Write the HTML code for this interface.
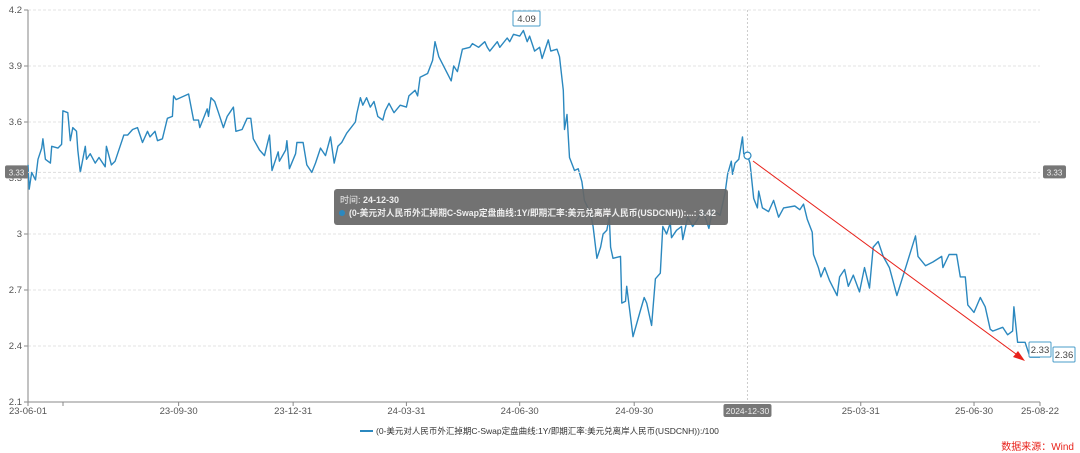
<!DOCTYPE html>
<html><head><meta charset="utf-8">
<style>
html,body{margin:0;padding:0;background:#fff;}
svg{display:block;font-family:"Liberation Sans","Noto Sans CJK SC",sans-serif;}
</style></head>
<body>
<svg id="chart" width="1080" height="453" viewBox="0 0 1080 453" xmlns="http://www.w3.org/2000/svg">
<g id="grid"></g>
<g id="yaxis"></g>
<g id="xaxis"></g>
<path id="line" fill="none" stroke="#2b88bf" stroke-width="1.4" stroke-linejoin="round"></path>
<g id="over"></g>
</svg>
<script>
const yTicks=[2.1,2.4,2.7,3,3.3,3.6,3.9,4.2];
const xTickDays=[0,121,213,304,395,487,669,760,813];
const xTickLabels=["23-06-01","23-09-30","23-12-31","24-03-31","24-06-30","24-09-30","25-03-31","25-06-30","25-08-22"];
const days=[0,1,3,6,8,11,12,14,18,19,24,27,28,32,34,36,39,40,42,46,47,50,54,57,62,63,67,70,76,77,80,84,88,92,96,98,102,104,108,112,116,117,119,129,133,137,138,144,145,147,150,153,157,160,162,165,167,172,176,179,181,186,190,194,196,201,202,207,208,210,215,216,221,224,228,231,235,239,243,246,249,252,256,263,264,267,269,272,275,278,281,285,287,290,294,299,304,306,311,313,315,321,325,327,330,340,342,345,349,355,357,362,367,369,371,377,379,385,387,390,395,398,401,403,407,411,413,418,420,425,427,430,431,433,435,439,442,445,447,452,454,457,460,462,465,467,468,470,476,477,480,481,486,492,495,497,501,504,508,510,513,516,517,521,525,526,530,534,538,542,547,550,556,560,562,565,566,568,571,574,575,578,580,583,586,587,590,595,599,603,607,616,620,623,626,630,631,635,637,640,644,650,652,656,659,663,668,672,676,679,683,687,692,698,706,713,715,721,727,734,735,740,746,749,753,755,760,765,769,773,775,783,787,791,792,795,801,805,811,813];
const values=[3.37,3.24,3.33,3.29,3.40,3.46,3.51,3.40,3.38,3.47,3.46,3.48,3.66,3.65,3.50,3.57,3.55,3.45,3.33,3.47,3.40,3.43,3.38,3.41,3.36,3.47,3.37,3.39,3.51,3.53,3.53,3.56,3.57,3.49,3.55,3.52,3.55,3.50,3.51,3.62,3.63,3.74,3.72,3.75,3.61,3.61,3.57,3.67,3.63,3.73,3.71,3.65,3.57,3.63,3.65,3.68,3.55,3.56,3.62,3.62,3.51,3.45,3.42,3.53,3.34,3.44,3.39,3.45,3.50,3.35,3.43,3.49,3.49,3.37,3.33,3.38,3.46,3.42,3.52,3.38,3.47,3.49,3.54,3.60,3.64,3.73,3.69,3.73,3.68,3.71,3.63,3.61,3.66,3.70,3.65,3.69,3.68,3.74,3.77,3.74,3.84,3.86,3.93,4.03,3.95,3.82,3.90,3.87,3.99,4.00,4.02,4.00,4.03,4.00,3.98,4.03,4.00,4.05,4.03,4.07,4.06,4.09,4.03,4.06,3.98,4.00,3.94,4.04,3.98,3.99,3.95,3.77,3.56,3.64,3.41,3.34,3.35,3.28,3.18,3.11,3.04,2.87,2.93,3.00,3.02,3.09,2.93,2.87,2.88,2.63,2.64,2.72,2.45,2.59,2.66,2.63,2.51,2.76,2.79,3.04,3.00,3.06,2.98,3.02,3.04,2.97,3.09,3.04,3.08,3.13,3.03,3.13,3.10,3.22,3.32,3.39,3.32,3.38,3.40,3.52,3.43,3.42,3.38,3.19,3.14,3.23,3.14,3.12,3.18,3.09,3.14,3.15,3.13,3.16,3.08,3.01,2.89,2.82,2.77,2.82,2.75,2.67,2.77,2.81,2.72,2.78,2.69,2.82,2.71,2.93,2.96,2.88,2.82,2.67,2.84,2.99,2.88,2.83,2.85,2.88,2.82,2.89,2.89,2.77,2.77,2.62,2.58,2.66,2.61,2.49,2.48,2.50,2.46,2.48,2.61,2.42,2.42,2.34,2.34,2.34];

const NS="http://www.w3.org/2000/svg";
const X0=28,X1=1040,Y0=402,Y1=10;
const xs=d=>X0+(d/813)*(X1-X0);
const ys=v=>Y0-(v-2.1)/(4.2-2.1)*(Y0-Y1);
function mk(tag,attrs,parent,text){const e=document.createElementNS(NS,tag);for(const k in attrs)e.setAttribute(k,attrs[k]);if(text!==undefined)e.textContent=text;parent.appendChild(e);return e;}
const grid=document.getElementById('grid'),ya=document.getElementById('yaxis'),xa=document.getElementById('xaxis'),ov=document.getElementById('over');
yTicks.forEach(t=>{
  const y=ys(t);
  if(t>2.1){const g=mk('line',{x1:X0,x2:X1,y1:y,y2:y,stroke:'#e3e3e3','stroke-dasharray':'3,2'},grid);
  
  }
  mk('line',{x1:X0-4,x2:X0,y1:y,y2:y,stroke:'#888'},ya);
  const l=mk('text',{x:X0-6,y:y+3,'text-anchor':'end','font-size':9.5,fill:'#555'},ya,String(t));
  
  
});
mk('line',{x1:X0,x2:X0,y1:Y1,y2:Y0,stroke:'#999','stroke-width':1.2},ya);
mk('line',{x1:X0,x2:X1,y1:Y0,y2:Y0,stroke:'#888'},xa);
mk('line',{x1:63,x2:63,y1:Y0,y2:Y0+4,stroke:'#888'},xa);
xTickDays.forEach((d,i)=>{
  const x=xs(d);
  mk('line',{x1:x,x2:x,y1:Y0,y2:Y0+4,stroke:'#888'},xa);
  const l=mk('text',{x:x,y:Y0+12,'text-anchor':'middle','font-size':9.5,fill:'#555'},xa,xTickLabels[i]);
  
  
});
let d='';days.forEach((dd,i)=>{d+=(i?'L':'M')+xs(dd).toFixed(1)+','+ys(values[i]).toFixed(1);});
document.getElementById('line').setAttribute('d',d);

const cx=xs(578),cy=ys(3.33);
mk('line',{x1:cx,x2:cx,y1:Y1,y2:Y0,stroke:'#ccc','stroke-dasharray':'2,2'},ov);
mk('line',{x1:X0,x2:X1,y1:cy,y2:cy,stroke:'#ddd','stroke-dasharray':'3,2'},ov);
mk('rect',{x:5,y:cy-7,width:23,height:13,rx:2,fill:'#777'},ov);
mk('text',{x:16.5,y:cy+3,'text-anchor':'middle','font-size':8,fill:'#eee'},ov,'3.33');
mk('rect',{x:1043,y:cy-7,width:23,height:13,rx:2,fill:'#777'},ov);
mk('text',{x:1054.5,y:cy+3,'text-anchor':'middle','font-size':8,fill:'#eee'},ov,'3.33');
mk('rect',{x:cx-24,y:404,width:48,height:13,rx:2,fill:'#777'},ov);
mk('text',{x:cx,y:414,'text-anchor':'middle','font-size':8.5,fill:'#eee'},ov,'2024-12-30');
mk('circle',{cx:cx,cy:ys(3.42),r:3.5,fill:'#fff',stroke:'#2b88bf','stroke-width':1.2},ov);
mk('line',{x1:753,y1:161,x2:1020,y2:357,stroke:'#e8221b','stroke-width':1},ov);
mk('polygon',{points:'1025,361 1013,357 1018,351',fill:'#e8221b'},ov);
function box(x,y,w,t){mk('rect',{x:x,y:y,width:w,height:15,fill:'#fff',stroke:'#4a9cc9','stroke-width':1,rx:1},ov);mk('text',{x:x+w/2,y:y+11,'text-anchor':'middle','font-size':9.5,fill:'#444'},ov,t);}
box(513,11,27,'4.09');box(1029,342,22,'2.33');box(1053,347,22,'2.36');
const tt=mk('g',{},ov);


mk('rect',{x:334,y:189,width:394,height:36,rx:3,fill:'#666','fill-opacity':0.92},tt);
const t1=mk('text',{x:340,y:203,'font-size':9,fill:'#eee'},tt,'时间: ');
mk('tspan',{'font-weight':'bold'},t1,'24-12-30');
mk('circle',{cx:342,cy:213,r:3,fill:'#2b88bf'},tt);
mk('text',{x:349,y:216,'font-size':9,'font-weight':'bold',fill:'#eee',textLength:367,lengthAdjust:'spacingAndGlyphs'},tt,'(0-美元对人民币外汇掉期C-Swap定盘曲线:1Y/即期汇率:美元兑离岸人民币(USDCNH)):...: 3.42');
const lg=mk('g',{},ov);


mk('line',{x1:360,x2:373,y1:431,y2:431,stroke:'#2b88bf','stroke-width':2},lg);
mk('text',{x:376,y:434,'font-size':8.5,fill:'#333'},lg,'(0-美元对人民币外汇掉期C-Swap定盘曲线:1Y/即期汇率:美元兑离岸人民币(USDCNH)):/100');
const src=mk('text',{x:1074,y:450,'text-anchor':'end','font-size':10,fill:'#e8221b'},ov,'数据来源：Wind');


</script>
</body></html>
